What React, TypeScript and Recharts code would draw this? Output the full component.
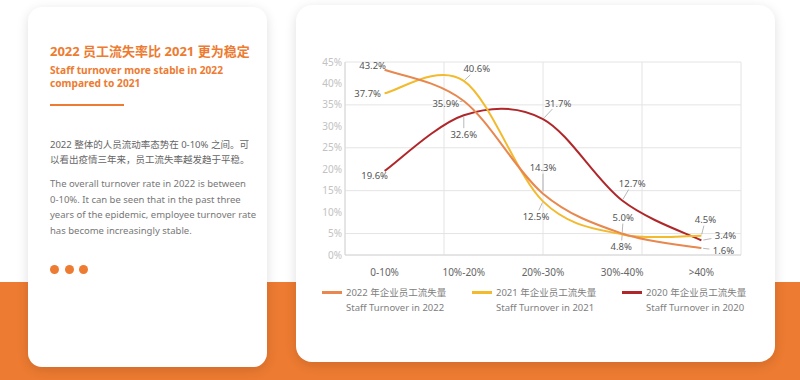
import React from "react";
import {
  CartesianGrid,
  LabelList,
  Legend,
  Line,
  LineChart,
  XAxis,
  YAxis,
} from "recharts";

const categories = ["0-10%", "10%-20%", "20%-30%", "30%-40%", ">40%"];
const turnover2022 = [43.2, 35.9, 14.3, 5.0, 1.6];
const turnover2021 = [37.7, 40.6, 12.5, 4.8, 4.5];
const turnover2020 = [19.6, 32.6, 31.7, 12.7, 3.4];
const yTicks = [0, 5, 10, 15, 20, 25, 30, 35, 40, 45];
const gridTicks = [0, 1, 2, 3, 4, 5];
const legendCn = ["2022 年企业员工流失量", "2021 年企业员工流失量", "2020 年企业员工流失量"];
const legendEn = ["Staff Turnover in 2022", "Staff Turnover in 2021", "Staff Turnover in 2020"];

const ORANGE = "#ED7B31";
const C2022 = "#E8874E";
const C2021 = "#F2BA2C";
const C2020 = "#B0272A";
const FONT = "'Noto Sans', 'Noto Sans CJK SC', sans-serif";

// label placement (dx, dy from the point to the label centre)
const offsets2022 = [[-12, -4], [-18, 2], [0, -26], [1, -16], [22, 2.5]];
const offsets2021 = [[-17, 0], [13, -12], [-7, 15], [-1, 12], [4, -16]];
const offsets2020 = [[-10, 5], [0, 19], [15, -16], [10, -17], [24, -4.5]];

const data = categories.map((c, i) => ({
  cat: c,
  y2022: turnover2022[i],
  y2021: turnover2021[i],
  y2020: turnover2020[i],
}));

// catmull-rom style smoothing, like the office "smoothed line"
const smoothCurve = (context: any) => {
  let pts: number[][] = [];
  return {
    areaStart() {},
    areaEnd() {},
    lineStart() {
      pts = [];
    },
    point(x: number, y: number) {
      pts.push([+x, +y]);
    },
    lineEnd() {
      if (!pts.length) return;
      context.moveTo(pts[0][0], pts[0][1]);
      for (let i = 0; i < pts.length - 1; i++) {
        const p0 = pts[i - 1] || pts[i];
        const p1 = pts[i];
        const p2 = pts[i + 1];
        const p3 = pts[i + 2] || p2;
        context.bezierCurveTo(
          p1[0] + (p2[0] - p0[0]) / 6,
          p1[1] + (p2[1] - p0[1]) / 6,
          p2[0] - (p3[0] - p1[0]) / 6,
          p2[1] - (p3[1] - p1[1]) / 6,
          p2[0],
          p2[1]
        );
      }
    },
  };
};

const makeLabel = (offsets: number[][]) => (props: any) => {
  const { x, y, value, index } = props;
  if (x == null || y == null) return null;
  const [dx, dy] = offsets[index] || [0, -10];
  const hw = 14;
  const hh = 6;
  const tx = dx !== 0 ? (Math.abs(dx) - hw) / Math.abs(dx) : -1;
  const ty = dy !== 0 ? (Math.abs(dy) - hh) / Math.abs(dy) : -1;
  const t = Math.max(tx, ty);
  const showLeader = t > 0 && Math.hypot(dx, dy) * t > 3;
  return (
    <g>
      {showLeader && (
        <line
          x1={x + dx * 0.08}
          y1={y + dy * 0.08}
          x2={x + dx * t}
          y2={y + dy * t}
          stroke="#9a9a9a"
          strokeWidth={0.7}
        />
      )}
      <text
        x={x + dx}
        y={y + dy}
        textAnchor="middle"
        dominantBaseline="central"
        fontSize={9.5}
        fill="#555"
        fontFamily={FONT}
      >
        {`${Number(value).toFixed(1)}%`}
      </text>
    </g>
  );
};

const legendColors = [C2022, C2021, C2020];

const renderLegend = () => (
  <div style={{ position: "relative", width: 460, height: 40, fontFamily: FONT }}>
    {legendCn.map((cn, i) => (
      <div key={cn} style={{ position: "absolute", left: 22 + i * 150, top: 0 }}>
        <div
          style={{
            position: "absolute",
            left: 0,
            top: 6,
            width: 20,
            height: 3,
            background: legendColors[i],
          }}
        />
        <div
          style={{
            position: "absolute",
            left: 24,
            top: 0,
            whiteSpace: "nowrap",
            fontSize: 9.5,
            lineHeight: "15px",
            color: "#808080",
          }}
        >
          {cn}
          <br />
          {legendEn[i]}
        </div>
      </div>
    ))}
  </div>
);

const TurnoverChart = () => (
  <LineChart
    width={460}
    height={270}
    data={data}
    margin={{ top: 12, right: 19, left: 0, bottom: 40 }}
  >
    <XAxis
      xAxisId="grid"
      type="number"
      domain={[0, 5]}
      ticks={gridTicks}
      allowDataOverflow
      hide
    />
    <CartesianGrid xAxisId="grid" stroke="#e4e4e4" strokeWidth={1} />
    <XAxis
      dataKey="cat"
      scale="band"
      axisLine={{ stroke: "#d8d8d8" }}
      tickLine={false}
      tickMargin={8}
      height={25}
      tick={{ fontSize: 10, fill: "#666", fontFamily: FONT }}
    />
    <YAxis
      domain={[0, 45]}
      ticks={yTicks}
      width={45}
      axisLine={{ stroke: "#d8d8d8" }}
      tickLine={false}
      tickSize={0}
      tickMargin={3}
      tickFormatter={(v: number) => `${v}%`}
      tick={{ fontSize: 10, fill: "#c2c2c2", fontFamily: FONT }}
    />
    <Legend
      content={renderLegend}
      layout="horizontal"
      verticalAlign="middle"
      align="center"
      wrapperStyle={{ top: 235, left: 0, width: 460 }}
    />
    <Line
      dataKey="y2020"
      type={smoothCurve as any}
      stroke={C2020}
      strokeWidth={2}
      dot={false}
      isAnimationActive={false}
    >
      <LabelList dataKey="y2020" content={makeLabel(offsets2020)} />
    </Line>
    <Line
      dataKey="y2021"
      type={smoothCurve as any}
      stroke={C2021}
      strokeWidth={2}
      dot={false}
      isAnimationActive={false}
    >
      <LabelList dataKey="y2021" content={makeLabel(offsets2021)} />
    </Line>
    <Line
      dataKey="y2022"
      type={smoothCurve as any}
      stroke={C2022}
      strokeWidth={2}
      dot={false}
      isAnimationActive={false}
    >
      <LabelList dataKey="y2022" content={makeLabel(offsets2022)} />
    </Line>
  </LineChart>
);

const cardStyle: React.CSSProperties = {
  position: "absolute",
  background: "#fff",
  boxShadow: "0 3px 12px rgba(0,0,0,0.13)",
};

export default function App() {
  return (
    <div
      style={{
        position: "absolute",
        left: 0,
        top: 0,
        width: 800,
        height: 380,
        overflow: "hidden",
        background: "#fff",
        fontFamily: FONT,
      }}
    >
      <div
        style={{ position: "absolute", left: 0, top: 282, width: 800, height: 98, background: ORANGE }}
      />
      <div style={{ ...cardStyle, left: 28, top: 7, width: 239, height: 360, borderRadius: 14 }}>
        <div
          style={{
            position: "absolute",
            left: 22,
            top: 36,
            fontSize: 13,
            lineHeight: "16px",
            fontWeight: 700,
            color: ORANGE,
            whiteSpace: "nowrap",
          }}
        >
          2022 员工流失率比 2021 更为稳定
        </div>
        <div
          style={{
            position: "absolute",
            left: 22,
            top: 57,
            fontSize: 10.2,
            lineHeight: "13px",
            fontWeight: 700,
            color: ORANGE,
            whiteSpace: "nowrap",
          }}
        >
          Staff turnover more stable in 2022
          <br />
          compared to 2021
        </div>
        <div
          style={{ position: "absolute", left: 22, top: 97, width: 74, height: 2, background: ORANGE }}
        />
        <div
          style={{
            position: "absolute",
            left: 22,
            top: 130,
            fontSize: 9.5,
            lineHeight: "15px",
            color: "#666",
            whiteSpace: "nowrap",
          }}
        >
          2022 整体的人员流动率态势在 0-10% 之间。可
          <br />
          以看出疫情三年来，员工流失率越发趋于平稳。
        </div>
        <div
          style={{
            position: "absolute",
            left: 22,
            top: 169,
            fontSize: 9.5,
            lineHeight: "15.5px",
            color: "#777",
            whiteSpace: "nowrap",
          }}
        >
          The overall turnover rate in 2022 is between
          <br />
          0-10%. It can be seen that in the past three
          <br />
          years of the epidemic, employee turnover rate
          <br />
          has become increasingly stable.
        </div>
        {[0, 1, 2].map((i) => (
          <div
            key={i}
            style={{
              position: "absolute",
              left: 22 + i * 14.5,
              top: 258,
              width: 9,
              height: 9,
              borderRadius: "50%",
              background: ORANGE,
            }}
          />
        ))}
      </div>
      <div style={{ ...cardStyle, left: 296, top: 5, width: 479, height: 357, borderRadius: 16 }} />
      <div style={{ position: "absolute", left: 300, top: 50 }}>
        <TurnoverChart />
      </div>
    </div>
  );
}
